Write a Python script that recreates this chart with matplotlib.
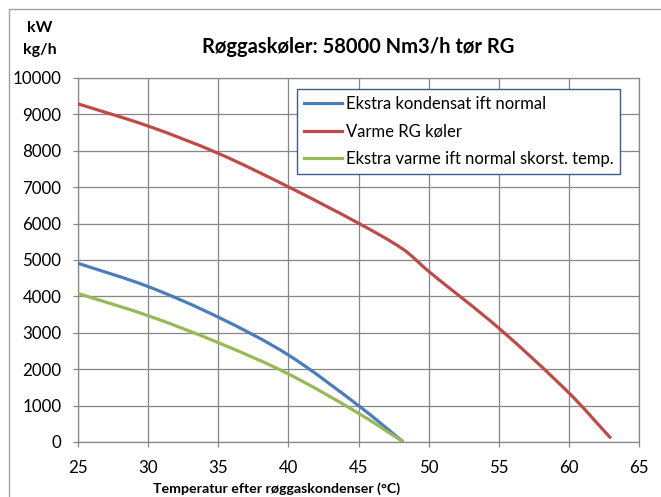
import matplotlib
matplotlib.use("Agg")
import matplotlib.pyplot as plt
from matplotlib.path import Path
from matplotlib.patches import PathPatch, Rectangle
from matplotlib.lines import Line2D
import numpy as np

plt.rcParams['font.family'] = ['Lato', 'DejaVu Sans']

# Temperatures after the flue-gas condenser (°C) and the three series
temp_kond = [25, 30, 35, 40, 45, 48.2]
ekstra_kondensat = [4910, 4270, 3430, 2390, 1000, 0]

temp_rg = [25, 30, 35, 40, 45, 48.2, 50, 55, 60, 63]
varme_rg = [9290, 8680, 7930, 7010, 6010, 5290, 4690, 3130, 1350, 100]

temp_varme = [25, 30, 35, 40, 45, 48.2]
ekstra_varme = [4080, 3470, 2730, 1870, 790, 0]

labels = ["Ekstra kondensat ift normal", "Varme RG køler",
          "Ekstra varme ift normal skorst. temp."]
colors = ["#4A7EBB", "#BE4B48", "#98B954"]

x_ticks = [25, 30, 35, 40, 45, 50, 55, 60, 65]
y_ticks = list(range(0, 10001, 1000))

W, H = 661, 497
fig = plt.figure(figsize=(W / 100, H / 100), dpi=100)
ax = fig.add_axes([78 / W, 1 - 442 / H, (639 - 78) / W, (442 - 78) / H])


def smooth_path(xs, ys):
    """Cubic Hermite (Bezier) path through the points, smoothed line."""
    x = np.asarray(xs, float)
    y = np.asarray(ys, float)
    n = len(x)
    m = np.empty(n)
    m[0] = (y[1] - y[0]) / (x[1] - x[0])
    m[-1] = (y[-1] - y[-2]) / (x[-1] - x[-2])
    for i in range(1, n - 1):
        m[i] = (y[i + 1] - y[i - 1]) / (x[i + 1] - x[i - 1])
    verts = [(x[0], y[0])]
    codes = [Path.MOVETO]
    for i in range(n - 1):
        dx = x[i + 1] - x[i]
        verts += [(x[i] + dx / 3, y[i] + m[i] * dx / 3),
                  (x[i + 1] - dx / 3, y[i + 1] - m[i + 1] * dx / 3),
                  (x[i + 1], y[i + 1])]
        codes += [Path.CURVE4] * 3
    return Path(verts, codes)


for xs, ys, c in [(temp_kond, ekstra_kondensat, colors[0]),
                  (temp_rg, varme_rg, colors[1]),
                  (temp_varme, ekstra_varme, colors[2])]:
    patch = PathPatch(smooth_path(xs, ys), facecolor="none", edgecolor=c,
                      lw=2.3, capstyle="butt", joinstyle="round", zorder=3)
    ax.add_patch(patch)

ax.set_xlim(25, 65)
ax.set_ylim(0, 10000)
ax.set_xticks(x_ticks)
ax.set_yticks(y_ticks)
ax.set_xticklabels([str(v) for v in x_ticks])
ax.set_yticklabels([str(v) for v in y_ticks])
grid_c = "#878787"
ax.grid(True, color=grid_c, lw=0.9, zorder=1)
ax.set_axisbelow(True)
for s in ax.spines.values():
    s.set_color(grid_c)
    s.set_linewidth(0.9)
ax.tick_params(axis="both", colors=grid_c, labelcolor="black", labelsize=12.2,
               length=3.5, width=0.9)
ax.tick_params(axis="y", pad=8.5)
ax.tick_params(axis="x", pad=9.5)

# Titles and axis captions
fig.text(358 / W, 1 - 47 / H, "Røggaskøler: 58000 Nm3/h tør RG",
         ha="center", va="center", fontsize=14.5, fontweight="bold")
fig.text(40 / W, 1 - 28 / H, "kW", ha="center", va="center",
         fontsize=11.5, fontweight="bold")
fig.text(40 / W, 1 - 50 / H, "kg/h", ha="center", va="center",
         fontsize=11.5, fontweight="bold")
fig.text(277 / W, 1 - 489 / H, "Temperatur efter røggaskondenser (°C)",
         ha="center", va="center", fontsize=10.2, fontweight="bold")

# Legend
handles = [Line2D([], [], color=c, lw=2.3) for c in colors]
leg = ax.legend(handles, labels, loc="upper left",
                bbox_to_anchor=(297 / W, 1 - 89 / H), bbox_transform=fig.transFigure,
                fontsize=12, frameon=True, fancybox=False, framealpha=1,
                handlelength=2.3, handletextpad=0.25, labelspacing=0.7,
                borderpad=0.4, borderaxespad=0)
leg.get_frame().set_edgecolor("#385D8A")
leg.get_frame().set_linewidth(1.0)

# Chart area border
fig.patches.append(Rectangle((9 / W, -0.05), 1.2, 1 - 9 / H + 0.05,
                             transform=fig.transFigure, fill=False,
                             edgecolor="#A0A0A0", lw=1.0))

fig.savefig("out.png", dpi=100)
